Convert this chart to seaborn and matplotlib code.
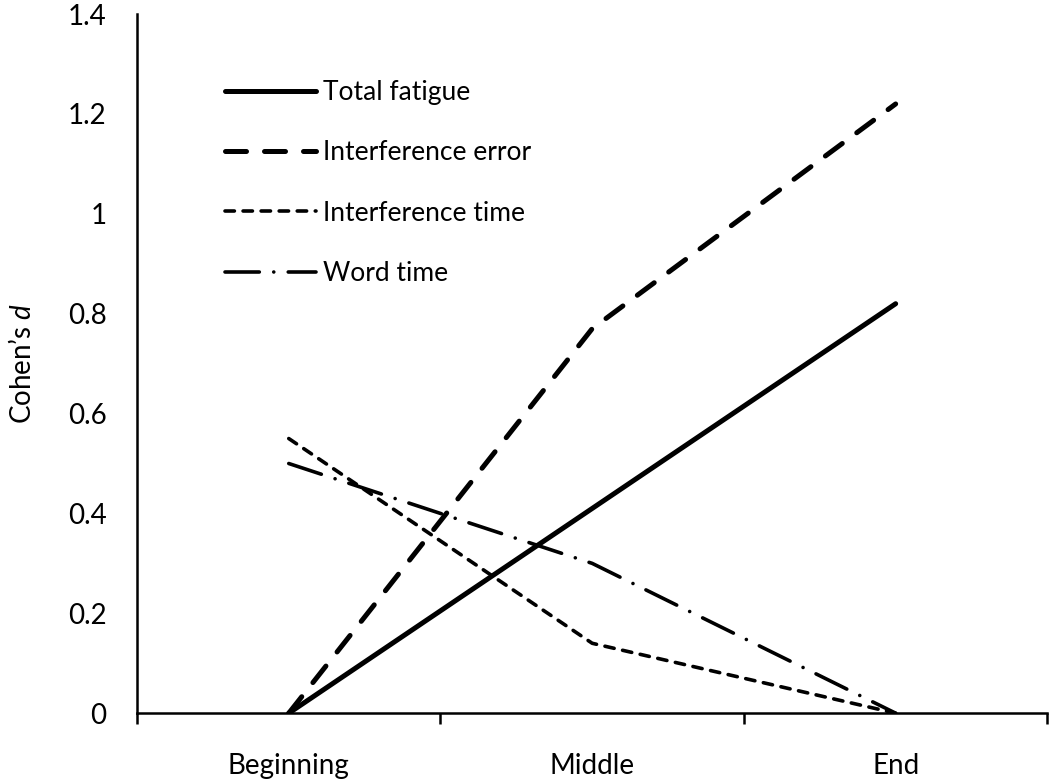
import numpy as np
import pandas as pd
import matplotlib
matplotlib.use("Agg")
import matplotlib.pyplot as plt
from matplotlib.ticker import FixedLocator
import seaborn as sns

# data
phases = ["Beginning", "Middle", "End"]
total_fatigue = [0.0, 0.41, 0.82]
interference_error = [0.0, 0.77, 1.22]
interference_time = [0.55, 0.14, 0.0]
word_time = [0.50, 0.30, 0.0]

series = {
    "Total fatigue": total_fatigue,
    "Interference error": interference_error,
    "Interference time": interference_time,
    "Word time": word_time,
}

# line styles (width in pt, dash pattern in linewidths)
styles = {
    "Total fatigue": dict(lw=3.6, ls="-"),
    "Interference error": dict(lw=3.6, ls=(0, (4.2, 3.6))),
    "Interference time": dict(lw=2.6, ls=(0, (2.6, 2.4))),
    "Word time": dict(lw=2.6, ls=(0, (9.5, 4.0, 0.01, 4.0))),
}

sns.set_theme(style="white")
plt.rcParams["font.family"] = ["Lato", "DejaVu Sans"]
plt.rcParams["mathtext.fontset"] = "custom"
plt.rcParams["mathtext.it"] = "Lato:italic"
plt.rcParams["lines.dash_capstyle"] = "round"
plt.rcParams["lines.solid_capstyle"] = "round"

fig = plt.figure(figsize=(10.5, 7.82), dpi=100)
ax = fig.add_axes([0.1305, 0.088, 0.867, 0.894])

for name, vals in series.items():
    df = pd.DataFrame({"phase": phases, "d": vals})
    sns.lineplot(data=df, x="phase", y="d", ax=ax, color="black",
                 linewidth=styles[name]["lw"], linestyle=styles[name]["ls"],
                 label=name, sort=False)

ax.set_xlim(-0.5, 2.5)
ax.set_ylim(0, 1.4)
ax.set_yticks(np.arange(0, 1.41, 0.2))
ax.set_yticklabels(["0", "0.2", "0.4", "0.6", "0.8", "1", "1.2", "1.4"])
ax.set_xticks(range(len(phases)))
ax.set_xticklabels(phases)
ax.xaxis.set_minor_locator(FixedLocator([-0.5, 0.5, 1.5, 2.5]))

ax.tick_params(axis="x", which="major", length=0, pad=29, labelsize=20, colors="black")
ax.tick_params(axis="x", which="minor", bottom=True, length=8, width=1.8,
               direction="out", color="black")
ax.tick_params(axis="y", length=0, pad=22, labelsize=20, colors="black")

ax.set_xlabel("")
ax.set_ylabel("Cohen\u2019s $d$", fontsize=20, color="black", labelpad=23)

for side in ["top", "right"]:
    ax.spines[side].set_visible(False)
for side in ["left", "bottom"]:
    ax.spines[side].set_color("black")
    ax.spines[side].set_linewidth(1.8)
ax.spines["left"].set_zorder(0)

leg = ax.legend(loc="upper left", bbox_to_anchor=(0.085, 0.921), frameon=False,
                fontsize=19, handlelength=3.45, handletextpad=0.25, labelspacing=1.34,
                borderaxespad=0)
for t in leg.get_texts():
    t.set_color("black")

fig.savefig("out.png", dpi=100)
